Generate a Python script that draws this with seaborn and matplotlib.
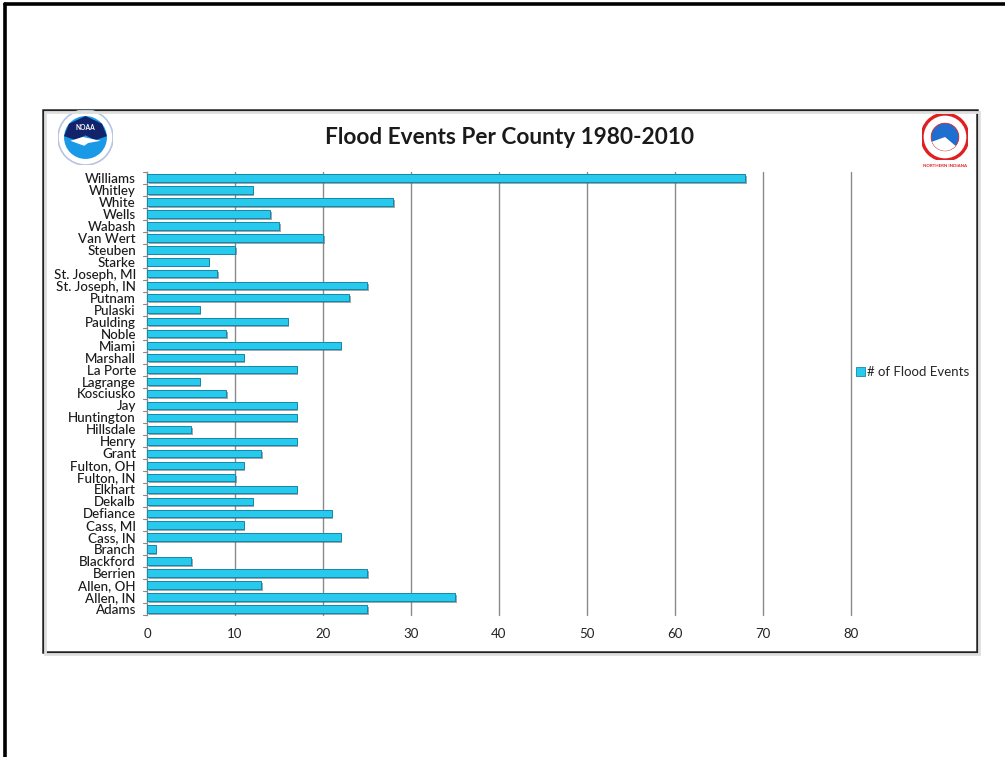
import matplotlib
matplotlib.use("Agg")
import matplotlib.pyplot as plt
import matplotlib.patheffects as pe
from matplotlib.patches import Rectangle, Circle, Wedge, Patch, Polygon
from matplotlib.lines import Line2D
import seaborn as sns
import pandas as pd

counties = [
    "Williams", "Whitley", "White", "Wells", "Wabash", "Van Wert", "Steuben",
    "Starke", "St. Joseph, MI", "St. Joseph, IN", "Putnam", "Pulaski",
    "Paulding", "Noble", "Miami", "Marshall", "La Porte", "Lagrange",
    "Kosciusko", "Jay", "Huntington", "Hillsdale", "Henry", "Grant",
    "Fulton, OH", "Fulton, IN", "Elkhart", "Dekalb", "Defiance", "Cass, MI",
    "Cass, IN", "Branch", "Blackford", "Berrien", "Allen, OH", "Allen, IN",
    "Adams",
]
flood_events = [
    68, 12, 28, 14, 15, 20, 10,
    7, 8, 25, 23, 6,
    16, 9, 22, 11, 17, 6,
    9, 17, 17, 5, 17, 13,
    11, 10, 17, 12, 21, 11,
    22, 1, 5, 25, 13, 35,
    25,
]
x_ticks = [0, 10, 20, 30, 40, 50, 60, 70, 80]
title = "Flood Events Per County 1980-2010"
series_name = "# of Flood Events"

df = pd.DataFrame({"county": counties, "events": flood_events})

sns.set_theme(style="white")
plt.rcParams["font.family"] = ["Lato", "DejaVu Sans"]

W, H = 1005, 757
fig = plt.figure(figsize=(W / 100, H / 100), dpi=100)
fig.patch.set_facecolor("white")

def fx(px):
    return px / W

def fy(py):
    return 1 - py / H

# slide frame (left and top edges)
fig.add_artist(Line2D([fx(5), fx(5)], [fy(4), 0], color="black", lw=2.6,
                      transform=fig.transFigure))
fig.add_artist(Line2D([fx(5), 1], [fy(4), fy(4)], color="black", lw=2.6,
                      transform=fig.transFigure))

# chart frame with a light drop shadow
fig.add_artist(Rectangle((fx(45), fy(654)), fx(934), 542 / H,
                         transform=fig.transFigure, facecolor="none",
                         edgecolor="#dedede", lw=2.0))
fig.add_artist(Rectangle((fx(43), fy(652)), fx(934), 542 / H,
                         transform=fig.transFigure, facecolor="white",
                         edgecolor="#222222", lw=1.8, zorder=0))

ax = fig.add_axes([fx(147), fy(615), fx(851 - 147), (615 - 172) / H])
ax.set_facecolor("none")

sns.barplot(data=df, x="events", y="county", orient="h", color="#27c9ec",
            width=0.62, saturation=1, ax=ax, zorder=3)
for bar in ax.patches:
    bar.set_edgecolor("#1488aa")
    bar.set_linewidth(0.7)
    bar.set_path_effects([pe.SimplePatchShadow(offset=(1.2, -1.4),
                                               shadow_rgbFace="#5f6f76",
                                               alpha=0.6),
                          pe.Normal()])

n = len(counties)
ax.set_xlim(0, 80)
ax.set_ylim(n - 0.5, -0.5)
ax.set_xticks(x_ticks)
ax.set_xticklabels([str(t) for t in x_ticks], fontsize=9.5, color="#222222")
ax.set_ylabel("")
ax.set_xlabel("")
ax.tick_params(axis="y", labelsize=9.6, labelcolor="#1a1a1a", pad=8, length=0)
ax.tick_params(axis="x", pad=9, length=0)
for lab in ax.get_yticklabels():
    lab.set_fontweight("medium")
ax.grid(False)
for t in x_ticks[1:]:
    ax.axvline(t, color="#8a8a8a", lw=1.0, zorder=0, clip_on=False)
for side in ["top", "right", "bottom"]:
    ax.spines[side].set_visible(False)
ax.spines["left"].set_color("#8a8a8a")
ax.spines["left"].set_linewidth(1.0)

# small marks between categories on the value axis
for i in range(n + 1):
    ax.plot([-0.5, 0], [i - 0.5, i - 0.5], color="#8a8a8a", lw=0.8,
            clip_on=False, zorder=2)

fig.text(0.5075, fy(138), title, ha="center", va="center", fontsize=16.3,
         fontweight="bold", color="#1a1a1a")

# legend
ax.legend(handles=[Patch(facecolor="#27c9ec", edgecolor="#1488aa", lw=0.6)],
          labels=[series_name], loc="center left", frameon=False,
          bbox_to_anchor=(fx(856), fy(372)), bbox_transform=fig.transFigure,
          fontsize=9.5, handlelength=0.7, handleheight=0.7, handletextpad=0.15,
          borderpad=0, borderaxespad=0)

# agency emblems drawn as simple round badges
logo = fig.add_axes([fx(58), fy(165), fx(55), 55 / H])
logo.set_xlim(-1, 1)
logo.set_ylim(-1, 1)
logo.set_aspect("equal")
logo.axis("off")
logo.add_patch(Circle((0, 0), 1.0, facecolor="white", edgecolor="#b8c4dc", lw=1.2))
logo.add_patch(Circle((0, 0), 0.78, facecolor="#1a9ae6", edgecolor="none"))
logo.add_patch(Polygon([(-0.78, 0.05), (-0.6, 0.5), (0, 0.78), (0.6, 0.5),
                        (0.78, 0.05), (0.35, -0.1), (0.0, 0.08), (-0.35, -0.1)],
                       closed=True, facecolor="#12236b", edgecolor="none"))
logo.add_patch(Polygon([(-0.55, -0.12), (-0.1, 0.02), (0.55, -0.12),
                        (0.1, -0.2), (-0.05, -0.3)], closed=True,
                       facecolor="white", edgecolor="none"))
logo.text(0, 0.38, "NOAA", ha="center", va="center", fontsize=4.8,
          color="white", fontweight="bold")

nws = fig.add_axes([fx(922), fy(160), fx(46), 46 / H])
nws.set_xlim(-1, 1)
nws.set_ylim(-1, 1)
nws.set_aspect("equal")
nws.axis("off")
nws.add_patch(Circle((0, 0), 1.0, facecolor="white", edgecolor="#e02020", lw=2.4))
nws.add_patch(Circle((0, 0), 0.6, facecolor="#1f6fd0", edgecolor="#e02020", lw=0.6))
nws.add_patch(Wedge((0, 0), 0.6, 200, 320, facecolor="white", edgecolor="none"))
fig.text(fx(945), fy(166), "NORTHERN INDIANA", ha="center", va="center",
         fontsize=3.2, color="#e02020", fontweight="bold")

fig.savefig("out.png", dpi=100, facecolor="white")
